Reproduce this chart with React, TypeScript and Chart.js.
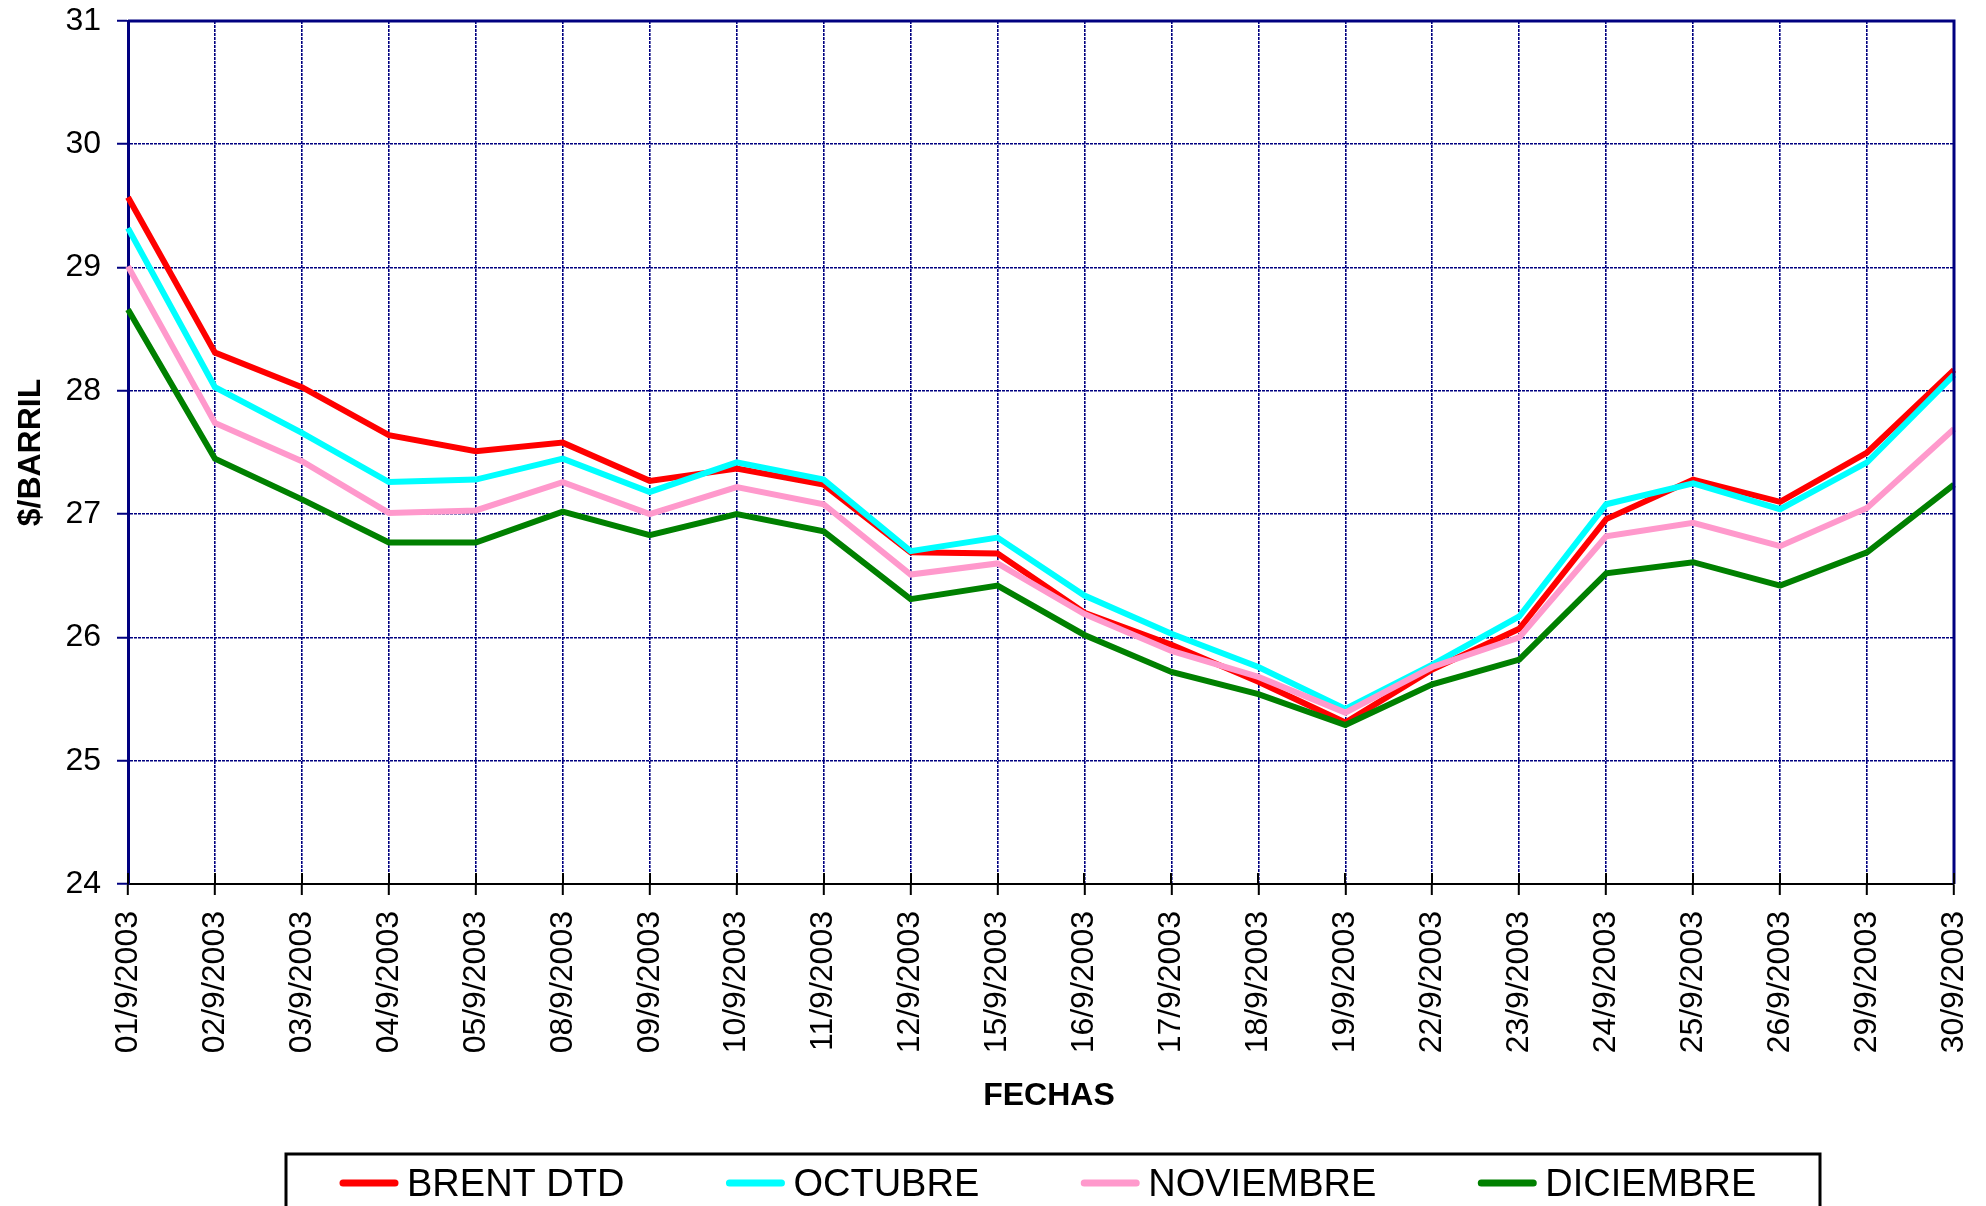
import React, { useEffect, useRef } from "react";
import { Chart, registerables } from "chart.js";

Chart.register(...registerables);

const labels = [
  "01/9/2003", "02/9/2003", "03/9/2003", "04/9/2003", "05/9/2003", "08/9/2003",
  "09/9/2003", "10/9/2003", "11/9/2003", "12/9/2003", "15/9/2003", "16/9/2003",
  "17/9/2003", "18/9/2003", "19/9/2003", "22/9/2003", "23/9/2003", "24/9/2003",
  "25/9/2003", "26/9/2003", "29/9/2003", "30/9/2003",
];
const brentDtd = [29.57, 28.31, 28.03, 27.64, 27.51, 27.58, 27.27, 27.37, 27.24, 26.69, 26.68, 26.2, 25.94, 25.64, 25.31, 25.74, 26.07, 26.96, 27.28, 27.1, 27.5, 28.17];
const octubre = [29.32, 28.03, 27.66, 27.26, 27.28, 27.45, 27.18, 27.42, 27.28, 26.7, 26.81, 26.34, 26.03, 25.76, 25.42, 25.78, 26.17, 27.08, 27.25, 27.04, 27.42, 28.13];
const noviembre = [29.01, 27.74, 27.43, 27.01, 27.03, 27.26, 27.0, 27.22, 27.08, 26.51, 26.6, 26.19, 25.89, 25.68, 25.39, 25.76, 26.0, 26.82, 26.93, 26.74, 27.05, 27.69];
const diciembre = [28.66, 27.45, 27.12, 26.77, 26.77, 27.02, 26.83, 27.0, 26.86, 26.31, 26.42, 26.02, 25.72, 25.54, 25.29, 25.62, 25.82, 26.52, 26.61, 26.42, 26.69, 27.24];
const seriesNames = ["BRENT DTD", "OCTUBRE", "NOVIEMBRE", "DICIEMBRE"];
const seriesColors = ["#FF0000", "#00FFFF", "#FF99CC", "#008000"];
const yMin = 24;
const yMax = 31;
const yStep = 1;
const xTitle = "FECHAS";
const yTitle = "$/BARRIL";

const FONT = "'Liberation Sans', Arial, Helvetica, sans-serif";
const NAVY = "#000080";

const framePlugin = {
  id: "framePlugin",
  afterDraw(chart: any) {
    const { ctx, chartArea } = chart;
    const { left, right, top, bottom } = chartArea;
    ctx.save();
    // top & right border
    ctx.strokeStyle = NAVY;
    ctx.lineWidth = 3;
    ctx.beginPath();
    ctx.moveTo(left, top);
    ctx.lineTo(right, top);
    ctx.lineTo(right, bottom);
    ctx.stroke();
    // inner part of x ticks
    const xs = chart.scales.x;
    ctx.strokeStyle = "#000000";
    ctx.lineWidth = 2;
    for (let i = 0; i < labels.length; i++) {
      const px = Math.round(xs.getPixelForValue(i));
      ctx.beginPath();
      ctx.moveTo(px, bottom - 11);
      ctx.lineTo(px, bottom);
      ctx.stroke();
    }
    // x axis title
    ctx.fillStyle = "#000000";
    ctx.font = `bold 32px ${FONT}`;
    ctx.textAlign = "center";
    ctx.textBaseline = "middle";
    ctx.fillText(xTitle, (left + right) / 2 + 8, 1096);
    // legend
    const boxL = 286, boxR = 1820, boxT = 1154;
    ctx.strokeStyle = "#000000";
    ctx.lineWidth = 3;
    ctx.beginPath();
    ctx.moveTo(boxL, chart.height + 5);
    ctx.lineTo(boxL, boxT);
    ctx.lineTo(boxR, boxT);
    ctx.lineTo(boxR, chart.height + 5);
    ctx.stroke();
    ctx.font = `38px ${FONT}`;
    ctx.textBaseline = "alphabetic";
    ctx.textAlign = "left";
    let x = 340;
    const lineY = 1183;
    for (let i = 0; i < seriesNames.length; i++) {
      ctx.strokeStyle = seriesColors[i];
      ctx.lineWidth = 7;
      ctx.lineCap = "round";
      ctx.beginPath();
      ctx.moveTo(x + 3, lineY);
      ctx.lineTo(x + 55, lineY);
      ctx.stroke();
      ctx.fillStyle = "#000000";
      ctx.fillText(seriesNames[i], x + 67, 1196);
      const w = ctx.measureText(seriesNames[i]).width;
      x += 67 + w + 102;
    }
    ctx.restore();
  },
};

export default function App() {
  const canvasRef = useRef<HTMLCanvasElement | null>(null);

  useEffect(() => {
    const canvas = canvasRef.current;
    if (!canvas) return;
    const datasets = [brentDtd, octubre, noviembre, diciembre].map((data, i) => ({
      label: seriesNames[i],
      data,
      borderColor: seriesColors[i],
      backgroundColor: seriesColors[i],
      borderWidth: 6,
      pointRadius: 0,
      pointHoverRadius: 0,
      tension: 0,
      fill: false,
      order: 3 - i,
    }));
    const chart = new Chart(canvas, {
      type: "line",
      data: { labels, datasets },
      options: {
        responsive: false,
        animation: false,
        devicePixelRatio: 1,
        layout: { padding: { left: 0, top: 21, right: 32, bottom: 91 } },
        plugins: {
          legend: { display: false },
          tooltip: { enabled: false },
        },
        scales: {
          x: {
            type: "category",
            offset: false,
            afterFit: (scale: any) => {
              scale.height = 231;
              scale.paddingLeft = 0;
              scale.paddingRight = 0;
            },
            border: { display: true, color: "#000000", width: 2, dash: [3, 1] },
            grid: {
              display: true,
              color: NAVY,
              lineWidth: 1.6,
              drawTicks: true,
              tickLength: 11,
              tickColor: "#000000",
              tickWidth: 2,
              tickBorderDash: [1, 0],
            },
            ticks: {
              autoSkip: false,
              minRotation: 90,
              maxRotation: 90,
              padding: 16,
              color: "#000000",
              font: { family: FONT, size: 32 },
            },
            title: { display: false, text: xTitle },
          },
          y: {
            min: yMin,
            max: yMax,
            afterFit: (scale: any) => {
              scale.width = 128;
              scale.paddingTop = 0;
              scale.paddingBottom = 0;
            },
            border: { display: true, color: NAVY, width: 3, dash: [3, 1] },
            grid: {
              display: true,
              color: NAVY,
              lineWidth: 1.6,
              drawTicks: true,
              tickLength: 11,
              tickColor: NAVY,
              tickWidth: 2,
              tickBorderDash: [1, 0],
            },
            ticks: {
              stepSize: yStep,
              padding: 16,
              color: "#000000",
              font: { family: FONT, size: 32 },
            },
            title: {
              display: true,
              text: yTitle,
              color: "#000000",
              padding: { top: 12, bottom: 0 },
              font: { family: FONT, size: 32, weight: "bold" },
            },
          },
        },
      },
      plugins: [framePlugin],
    } as any);
    return () => chart.destroy();
  }, []);

  return (
    <div style={{ position: "absolute", left: 0, top: 0, width: 1986, height: 1206, background: "#ffffff" }}>
      <canvas ref={canvasRef} width={1986} height={1206} style={{ display: "block" }} />
    </div>
  );
}
